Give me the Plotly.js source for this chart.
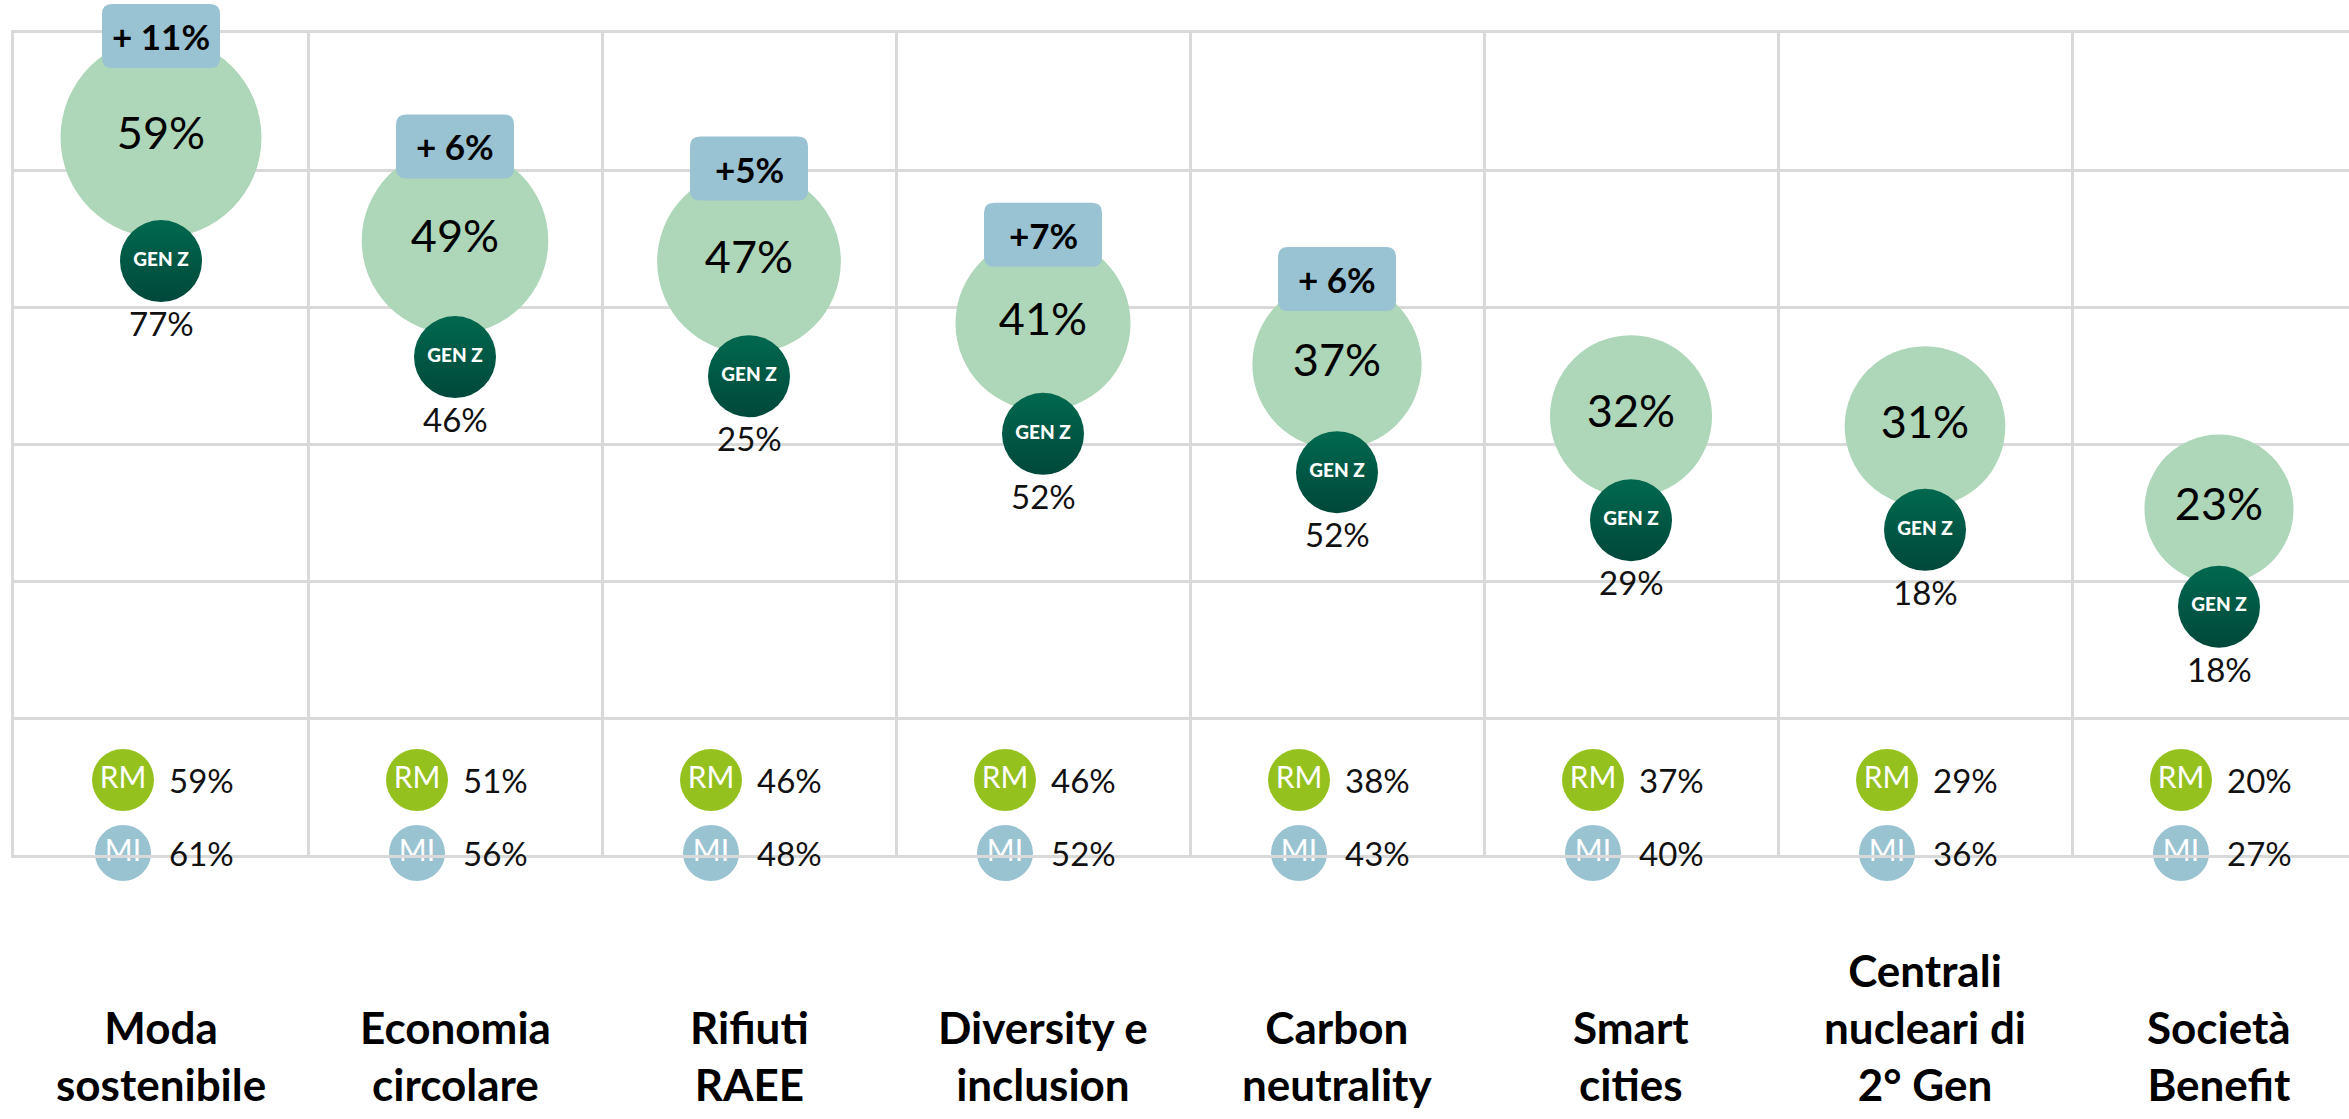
<!DOCTYPE html>
<html>
<head>
<meta charset="utf-8">
<script src="https://cdn.plot.ly/plotly-3.0.1.min.js"></script>
<style>
  html, body { margin: 0; padding: 0; background: #ffffff; }
  #chart { width: 2349px; height: 1119px; }
</style>
</head>
<body>
<div id="chart"></div>
<script>
// ---------------- data ----------------
const categoryLabels = [
  'Moda<br>sostenibile',
  'Economia<br>circolare',
  'Rifiuti<br>RAEE',
  'Diversity e<br>inclusion',
  'Carbon<br>neutrality',
  'Smart<br>cities',
  'Centrali<br>nucleari di<br>2° Gen',
  'Società<br>Benefit'
];
const totalValues = [59, 49, 47, 41, 37, 32, 31, 23];
const genZValues  = [77, 46, 25, 52, 52, 29, 18, 18];
const rmValues    = [59, 51, 46, 46, 38, 37, 29, 20];
const miValues    = [61, 56, 48, 52, 43, 40, 36, 27];
const deltaLabels = ['+ 11%', '+ 6%', '+5%', '+7%', '+ 6%', '', '', ''];
const rowLabels   = ['MI', 'RM'];

// ---------------- layout constants ----------------
const W = 2349, H = 1119;
const PLOT_LEFT = 14, PLOT_TOP = 33, PLOT_BOTTOM = 855;
const COL_PX = 294;
const plotH = PLOT_BOTTOM - PLOT_TOP;
const yRange = [-10.52, 69.13];
const ppu = plotH / (yRange[1] - yRange[0]);
const xRange = [-0.5, -0.5 + (W - PLOT_LEFT) / COL_PX];
const ROW_PX = 73;
const rowRange = [-2 / ROW_PX, -2 / ROW_PX + plotH / ROW_PX];

const FONT = 'Lato, "Open Sans", sans-serif';
const GRID = '#d9d9d9';
const pct = v => v + '%';
const idx = totalValues.map((_, i) => i);
const bubbleR = v => 58 + 0.72 * v;
const GENZ_R = 41;
const genZGap = v => bubbleR(v) + 23;
const xPaper = x => (x - xRange[0]) / (xRange[1] - xRange[0]);
const yPaper = y => (y - yRange[0]) / (yRange[1] - yRange[0]);

// ---------------- traces ----------------
const bubbles = {
  type: 'scatter', mode: 'markers+text',
  x: idx, y: totalValues,
  text: totalValues.map(pct),
  textposition: 'middle center',
  textfont: { family: FONT, size: 45, color: '#000000', weight: 400 },
  marker: { size: totalValues.map(v => 2 * bubbleR(v)), color: '#AED6B8', line: { width: 0 }, opacity: 1 },
  cliponaxis: false, hoverinfo: 'skip', showlegend: false
};

const genZ = {
  type: 'scatter', mode: 'markers+text',
  x: idx, y: totalValues.map(v => v - genZGap(v) / ppu),
  text: idx.map(() => 'GEN Z'),
  textposition: 'middle center',
  textfont: { family: FONT, size: 19, color: '#ffffff', weight: 900 },
  marker: { size: 2 * GENZ_R, color: '#00684F', gradient: { type: 'vertical', color: '#00483A' }, line: { width: 0 } },
  cliponaxis: false, hoverinfo: 'skip', showlegend: false
};

const rmDx = -38 / COL_PX;
const rm = {
  type: 'scatter', mode: 'markers+text',
  x: idx.map(i => i + rmDx), y: idx.map(() => 'RM'),
  yaxis: 'y2',
  text: idx.map(() => 'RM'),
  textposition: 'middle center',
  textfont: { family: FONT, size: 30, color: '#ffffff' },
  marker: { size: 62, color: '#95C11F', line: { width: 0 } },
  cliponaxis: false, hoverinfo: 'skip', showlegend: false
};
const mi = {
  type: 'scatter', mode: 'markers+text',
  x: idx.map(i => i + rmDx), y: idx.map(() => 'MI'),
  yaxis: 'y2',
  text: idx.map(() => 'MI'),
  textposition: 'middle center',
  textfont: { family: FONT, size: 30, color: '#ffffff' },
  marker: { size: 60, color: '#9AC3D2', line: { width: 4, color: '#ffffff' } },
  cliponaxis: false, hoverinfo: 'skip', showlegend: false
};

// ---------------- shapes (delta boxes) ----------------
function roundRect(cy, w, h, rc) {
  const x0 = -w / 2, x1 = w / 2, yb = cy - h / 2, yt = cy + h / 2;
  return `M ${x0 + rc},${yb} L ${x1 - rc},${yb} Q ${x1},${yb} ${x1},${yb + rc} ` +
         `L ${x1},${yt - rc} Q ${x1},${yt} ${x1 - rc},${yt} L ${x0 + rc},${yt} ` +
         `Q ${x0},${yt} ${x0},${yt - rc} L ${x0},${yb + rc} Q ${x0},${yb} ${x0 + rc},${yb} Z`;
}
const shapes = [];
const annotations = [];
deltaLabels.forEach((lab, i) => {
  if (!lab) return;
  const off = bubbleR(totalValues[i]) + 1;
  shapes.push({
    type: 'path', xref: 'paper', yref: 'paper', xsizemode: 'pixel', ysizemode: 'pixel',
    xanchor: xPaper(i), yanchor: yPaper(totalValues[i]),
    path: roundRect(off, 118, 64, 10),
    fillcolor: '#99C2D2', line: { width: 0 }, layer: 'above'
  });
  annotations.push({
    x: i, y: totalValues[i], xref: 'x', yref: 'y', yshift: off,
    text: '<b>' + lab + '</b>', showarrow: false,
    font: { family: FONT, size: 35, color: '#000000' }
  });
});

// GEN Z value labels
genZValues.forEach((v, i) => {
  annotations.push({
    x: i, y: totalValues[i], xref: 'x', yref: 'y',
    yshift: -(genZGap(totalValues[i]) + 62),
    text: pct(v), showarrow: false,
    font: { family: FONT, size: 33, color: '#111111' }
  });
});

// RM / MI value labels
rmValues.forEach((v, i) => {
  annotations.push({
    x: i, y: 1, xref: 'x', yref: 'y2', xanchor: 'left', xshift: 6,
    text: pct(v), showarrow: false,
    font: { family: FONT, size: 33, color: '#111111' }
  });
});
miValues.forEach((v, i) => {
  annotations.push({
    x: i, y: 0, xref: 'x', yref: 'y2', xanchor: 'left', xshift: 6,
    text: pct(v), showarrow: false,
    font: { family: FONT, size: 33, color: '#111111' }
  });
});

// Category labels
categoryLabels.forEach((lab, i) => {
  annotations.push({
    x: i, y: (PLOT_BOTTOM - 1112) / plotH, xref: 'x', yref: 'paper',
    xanchor: 'center', yanchor: 'bottom', align: 'center',
    text: '<b>' + lab + '</b>', showarrow: false,
    font: { family: FONT, size: 44, color: '#000000' }
  });
});

const yGrid = [1, 2, 3, 4, 5].map(k => yRange[0] + k * (yRange[1] - yRange[0]) / 6);
const xGrid = [0.5, 1.5, 2.5, 3.5, 4.5, 5.5, 6.5];

const layout = {
  width: W, height: H,
  margin: { l: PLOT_LEFT, r: 0, t: PLOT_TOP, b: H - PLOT_BOTTOM, pad: 0 },
  paper_bgcolor: '#ffffff', plot_bgcolor: '#ffffff',
  showlegend: false, hovermode: false,
  font: { family: FONT },
  xaxis: {
    range: xRange, tickmode: 'array', tickvals: xGrid, showticklabels: false, ticks: '',
    showgrid: true, gridcolor: GRID, gridwidth: 3, zeroline: false,
    showline: true, mirror: true, linecolor: GRID, linewidth: 3, fixedrange: true
  },
  yaxis: {
    range: yRange, tickmode: 'array', tickvals: yGrid, showticklabels: false, ticks: '',
    showgrid: true, gridcolor: GRID, gridwidth: 3, zeroline: false,
    showline: true, mirror: false, linecolor: GRID, linewidth: 3, fixedrange: true
  },
  yaxis2: {
    overlaying: 'y', type: 'category', categoryorder: 'array', categoryarray: rowLabels,
    range: rowRange, showgrid: false, showticklabels: false, ticks: '', zeroline: false,
    showline: false, fixedrange: true
  },
  shapes: shapes,
  annotations: annotations
};

Plotly.newPlot('chart', [bubbles, genZ, rm, mi], layout, { displayModeBar: false, staticPlot: true });
</script>
</body>
</html>
